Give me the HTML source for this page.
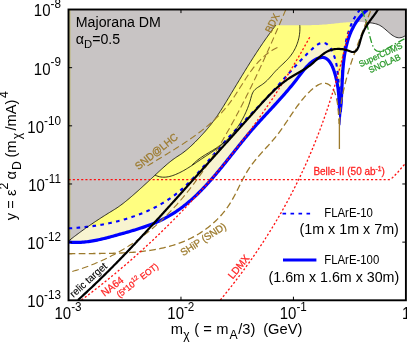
<!DOCTYPE html>
<html><head><meta charset="utf-8"><title>Majorana DM</title>
<style>
html,body{margin:0;padding:0;background:#fff;}
body{width:407px;height:343px;overflow:hidden;position:relative;font-family:"Liberation Sans",sans-serif;}
svg{display:block;will-change:transform}
</style></head><body>
<svg width="407" height="343" viewBox="0 0 407 343" style="position:absolute;left:0;top:0">
<defs><clipPath id="cp"><rect x="68.50" y="9.50" width="337.40" height="290.80"/></clipPath></defs>
<rect x="0" y="0" width="407" height="343" fill="#fff"/>
<g clip-path="url(#cp)" fill="none" stroke-linejoin="round">
<path d="M68.60,242.10 L70.19,242.22 L71.76,242.32 L73.32,242.38 L74.87,242.41 L76.41,242.42 L77.94,242.40 L79.46,242.35 L80.97,242.28 L82.47,242.18 L83.96,242.06 L85.45,241.92 L86.93,241.76 L88.40,241.57 L89.87,241.37 L91.33,241.15 L92.78,240.90 L94.23,240.65 L95.68,240.37 L97.13,240.08 L98.57,239.78 L100.00,239.46 L101.44,239.14 L102.88,238.80 L104.31,238.44 L105.75,238.08 L107.18,237.72 L108.61,237.34 L110.05,236.96 L111.49,236.57 L112.93,236.17 L114.37,235.78 L115.82,235.38 L117.27,234.97 L118.73,234.57 L120.18,234.16 L121.65,233.76 L123.11,233.35 L124.58,232.94 L126.05,232.52 L127.53,232.10 L129.00,231.68 L130.47,231.25 L131.95,230.82 L133.42,230.38 L134.90,229.94 L136.37,229.49 L137.84,229.03 L139.30,228.56 L140.77,228.09 L142.23,227.61 L143.69,227.12 L145.14,226.62 L146.59,226.11 L148.03,225.59 L149.47,225.05 L150.90,224.51 L152.32,223.95 L153.74,223.39 L155.14,222.81 L156.54,222.21 L157.93,221.61 L159.31,220.98 L160.68,220.35 L162.04,219.69 L163.39,219.03 L164.73,218.34 L166.05,217.64 L167.37,216.92 L168.67,216.19 L169.96,215.44 L171.24,214.68 L172.51,213.90 L173.77,213.11 L175.02,212.30 L176.26,211.48 L177.48,210.64 L178.70,209.79 L179.91,208.93 L181.11,208.05 L182.30,207.16 L183.48,206.26 L184.65,205.34 L185.81,204.42 L186.96,203.48 L188.11,202.53 L189.24,201.57 L190.37,200.60 L191.49,199.61 L192.61,198.62 L193.71,197.62 L194.81,196.60 L195.90,195.58 L196.98,194.55 L198.06,193.51 L199.13,192.46 L200.19,191.40 L201.25,190.33 L202.30,189.25 L203.34,188.17 L204.38,187.08 L205.41,185.98 L206.44,184.88 L207.46,183.77 L208.48,182.65 L209.49,181.52 L210.50,180.39 L211.50,179.26 L212.50,178.12 L213.49,176.97 L214.48,175.82 L215.47,174.67 L216.45,173.51 L217.43,172.34 L218.40,171.18 L219.38,170.00 L220.34,168.83 L221.31,167.65 L222.28,166.47 L223.24,165.29 L224.20,164.11 L225.15,162.92 L226.11,161.74 L227.06,160.55 L228.01,159.36 L228.96,158.17 L229.91,156.98 L230.86,155.78 L231.81,154.59 L232.75,153.40 L233.70,152.21 L234.65,151.02 L235.59,149.83 L236.54,148.65 L237.48,147.46 L238.43,146.28 L239.38,145.10 L240.32,143.92 L241.27,142.74 L242.22,141.57 L243.17,140.40 L244.13,139.23 L245.08,138.07 L246.04,136.91 L246.99,135.76 L247.95,134.61 L248.92,133.47 L249.88,132.33 L250.85,131.19 L251.82,130.07 L252.79,128.94 L253.77,127.83 L254.75,126.72 L255.73,125.61 L256.72,124.51 L257.70,123.41 L258.69,122.32 L259.69,121.23 L260.68,120.14 L261.68,119.05 L262.67,117.97 L263.67,116.88 L264.68,115.80 L265.68,114.72 L266.68,113.64 L267.69,112.56 L268.69,111.48 L269.70,110.39 L270.71,109.31 L271.72,108.22 L272.73,107.13 L273.74,106.04 L274.75,104.94 L275.76,103.85 L276.77,102.74 L277.78,101.63 L278.78,100.52 L279.79,99.41 L280.80,98.28 L281.81,97.15 L282.82,96.02 L283.83,94.87 L284.83,93.72 L285.84,92.56 L286.84,91.40 L287.84,90.22 L288.84,89.04 L289.84,87.84 L290.84,86.64 L291.83,85.42 L292.83,84.20 L293.82,82.96 L294.81,81.71 L295.79,80.45 L296.78,79.18 L297.76,77.90 L298.74,76.61 L299.72,75.31 L300.70,74.03 L301.69,72.75 L302.69,71.49 L303.69,70.24 L304.70,69.03 L305.72,67.84 L306.75,66.69 L307.79,65.58 L308.85,64.51 L309.93,63.50 L311.03,62.55 L312.14,61.65 L313.28,60.83 L314.44,60.08 L315.62,59.40 L316.83,58.81 L318.07,58.31 L319.33,57.90 L320.61,57.61 L321.89,57.45 L323.13,57.47 L324.31,57.69 L325.42,58.10 L326.48,58.68 L327.48,59.43 L328.42,60.33 L329.31,61.37 L330.15,62.53 L330.93,63.80 L331.67,65.16 L332.36,66.60 L333.00,68.11 L333.60,69.68 L334.16,71.28 L334.67,72.91 L335.15,74.55 L335.59,76.19 L335.99,77.82 L336.36,79.42 L336.70,80.98 L337.01,82.51 L337.29,84.01 L337.55,85.49 L337.78,86.95 L337.99,88.39 L338.17,89.82 L338.34,91.24 L338.49,92.65 L338.62,94.06 L338.74,95.47 L338.84,96.88 L338.94,98.30 L339.02,99.73 L339.10,101.18 L339.18,102.64 L339.25,104.13 L339.31,105.64 L339.38,107.18 L339.45,108.75 L339.52,110.35 L339.60,112.00 L340.37,110.53 L340.53,109.06 L340.68,107.58 L340.82,106.09 L340.95,104.59 L341.07,103.08 L341.18,101.57 L341.28,100.04 L341.38,98.52 L341.47,96.99 L341.55,95.45 L341.63,93.90 L341.71,92.36 L341.79,90.80 L341.86,89.25 L341.93,87.69 L342.00,86.13 L342.07,84.57 L342.15,83.00 L342.22,81.43 L342.30,79.86 L342.38,78.30 L342.47,76.73 L342.56,75.16 L342.65,73.59 L342.76,72.02 L342.87,70.46 L342.99,68.89 L343.12,67.33 L343.26,65.77 L343.41,64.22 L343.57,62.67 L343.74,61.12 L343.93,59.58 L344.13,58.04 L344.34,56.51 L344.58,54.98 L344.82,53.46 L345.09,51.94 L345.37,50.44 L345.67,48.94 L345.99,47.45 L346.33,45.96 L346.70,44.49 L347.08,43.02 L347.49,41.57 L347.92,40.12 L348.37,38.69 L348.86,37.27 L349.36,35.85 L349.89,34.45 L350.46,33.07 L351.04,31.69 L351.66,30.33 L352.31,28.98 L352.99,27.65 L353.70,26.33 L354.44,25.02 L355.22,23.73 L356.03,22.46 L356.87,21.20 L357.75,19.96 L358.67,18.73 L359.62,17.53 L360.61,16.34 L361.64,15.16 L362.71,14.01 L363.82,12.88 L364.97,11.77 L366.16,10.67 L367.40,9.60 L405.90,9.50 L68.50,9.50 Z" fill="#f8f4d0"/>
<path d="M68.60,228.40 L70.07,228.32 L71.54,228.23 L73.02,228.13 L74.50,228.03 L75.98,227.91 L77.47,227.79 L78.96,227.66 L80.45,227.53 L81.94,227.38 L83.43,227.23 L84.93,227.07 L86.43,226.89 L87.93,226.72 L89.42,226.53 L90.93,226.33 L92.43,226.12 L93.93,225.91 L95.43,225.69 L96.93,225.45 L98.43,225.21 L99.93,224.96 L101.43,224.70 L102.93,224.43 L104.43,224.15 L105.93,223.86 L107.43,223.56 L108.92,223.25 L110.42,222.93 L111.91,222.60 L113.40,222.26 L114.88,221.91 L116.37,221.54 L117.85,221.17 L119.33,220.79 L120.81,220.40 L122.28,219.99 L123.75,219.58 L125.21,219.15 L126.67,218.72 L128.13,218.27 L129.58,217.81 L131.03,217.34 L132.48,216.86 L133.91,216.37 L135.35,215.86 L136.78,215.34 L138.20,214.81 L139.62,214.27 L141.03,213.72 L142.43,213.16 L143.83,212.58 L145.23,211.99 L146.61,211.39 L147.99,210.78 L149.36,210.15 L150.73,209.51 L152.08,208.86 L153.43,208.19 L154.78,207.51 L156.11,206.82 L157.43,206.12 L158.75,205.40 L160.06,204.67 L161.36,203.93 L162.65,203.17 L163.93,202.40 L165.20,201.61 L166.46,200.81 L167.72,200.00 L168.96,199.17 L170.19,198.33 L171.41,197.48 L172.62,196.61 L173.82,195.73 L175.01,194.83 L176.19,193.92 L177.35,192.99 L178.51,192.05 L179.65,191.09 L180.79,190.12 L181.91,189.14 L183.03,188.14 L184.13,187.14 L185.22,186.12 L186.31,185.09 L187.39,184.05 L188.46,183.00 L189.52,181.94 L190.58,180.87 L191.62,179.79 L192.67,178.70 L193.70,177.60 L194.73,176.50 L195.75,175.38 L196.77,174.27 L197.78,173.14 L198.79,172.01 L199.80,170.87 L200.80,169.73 L201.80,168.58 L202.79,167.43 L203.78,166.28 L204.77,165.12 L205.76,163.96 L206.74,162.79 L207.73,161.63 L208.71,160.46 L209.69,159.29 L210.67,158.12 L211.65,156.95 L212.64,155.78 L213.62,154.61 L214.60,153.45 L215.59,152.28 L216.58,151.12 L217.57,149.95 L218.56,148.79 L219.55,147.64 L220.55,146.48 L221.55,145.33 L222.56,144.19 L223.57,143.05 L224.58,141.91 L225.60,140.78 L226.62,139.65 L227.64,138.53 L228.66,137.41 L229.69,136.29 L230.72,135.18 L231.76,134.07 L232.80,132.96 L233.83,131.86 L234.88,130.75 L235.92,129.66 L236.96,128.56 L238.01,127.47 L239.06,126.37 L240.11,125.28 L241.16,124.20 L242.21,123.11 L243.26,122.02 L244.32,120.94 L245.37,119.86 L246.42,118.78 L247.48,117.70 L248.53,116.62 L249.59,115.54 L250.64,114.46 L251.69,113.39 L252.75,112.31 L253.80,111.23 L254.85,110.15 L255.90,109.08 L256.95,108.00 L258.00,106.92 L259.05,105.84 L260.09,104.76 L261.13,103.68 L262.18,102.60 L263.22,101.51 L264.25,100.43 L265.29,99.34 L266.32,98.26 L267.35,97.17 L268.38,96.07 L269.40,94.98 L270.42,93.88 L271.44,92.78 L272.45,91.68 L273.46,90.58 L274.47,89.47 L275.47,88.36 L276.47,87.25 L277.47,86.14 L278.47,85.02 L279.47,83.91 L280.46,82.79 L281.46,81.67 L282.46,80.54 L283.45,79.42 L284.45,78.30 L285.45,77.17 L286.45,76.05 L287.45,74.92 L288.45,73.79 L289.46,72.67 L290.47,71.54 L291.49,70.41 L292.50,69.29 L293.53,68.16 L294.55,67.03 L295.59,65.91 L296.62,64.78 L297.67,63.66 L298.72,62.54 L299.78,61.42 L300.84,60.30 L301.91,59.18 L302.99,58.06 L304.08,56.94 L305.18,55.83 L306.28,54.72 L307.40,53.61 L308.53,52.51 L309.66,51.40 L310.81,50.30 L311.97,49.21 L313.14,48.13 L314.31,47.09 L315.49,46.12 L316.68,45.23 L317.86,44.45 L319.05,43.79 L320.23,43.28 L321.41,42.93 L322.58,42.78 L323.74,42.83 L324.88,43.10 L325.99,43.58 L327.06,44.26 L328.08,45.12 L329.05,46.15 L329.96,47.32 L330.82,48.62 L331.62,50.02 L332.37,51.51 L333.06,53.06 L333.70,54.67 L334.29,56.29 L334.82,57.93 L335.29,59.55 L335.71,61.14 L336.08,62.70 L336.40,64.22 L336.69,65.71 L336.93,67.19 L337.15,68.65 L337.35,70.10 L337.53,71.55 L337.70,73.00 L337.85,74.46 L338.01,75.92 L338.15,77.39 L338.28,78.86 L338.41,80.34 L338.53,81.82 L338.64,83.30 L338.75,84.79 L338.85,86.28 L338.94,87.78 L339.03,89.28 L339.11,90.78 L339.19,92.28 L339.26,93.79 L339.32,95.30 L339.38,96.81 L339.44,98.33 L339.49,99.84 L339.54,101.36 L339.59,102.88 L339.63,104.39 L339.67,105.91 L339.71,107.44 L339.74,108.96 L339.77,110.48 L339.80,112.00 L339.96,110.52 L340.11,109.03 L340.25,107.54 L340.38,106.04 L340.50,104.53 L340.61,103.02 L340.71,101.51 L340.81,99.98 L340.91,98.46 L340.99,96.93 L341.08,95.39 L341.15,93.85 L341.23,92.31 L341.30,90.77 L341.37,89.22 L341.44,87.67 L341.51,86.11 L341.58,84.56 L341.64,83.00 L341.71,81.44 L341.78,79.88 L341.86,78.32 L341.93,76.76 L342.01,75.20 L342.09,73.64 L342.18,72.08 L342.28,70.51 L342.38,68.95 L342.48,67.40 L342.60,65.84 L342.72,64.28 L342.85,62.73 L342.99,61.18 L343.14,59.63 L343.30,58.08 L343.48,56.54 L343.66,55.00 L343.86,53.47 L344.07,51.94 L344.29,50.41 L344.53,48.89 L344.78,47.37 L345.05,45.86 L345.34,44.35 L345.64,42.85 L345.96,41.36 L346.30,39.87 L346.66,38.39 L347.04,36.92 L347.44,35.45 L347.85,33.99 L348.29,32.54 L348.76,31.10 L349.25,29.67 L349.76,28.25 L350.29,26.83 L350.86,25.43 L351.45,24.04 L352.07,22.66 L352.72,21.29 L353.39,19.94 L354.10,18.59 L354.84,17.27 L355.62,15.95 L356.42,14.65 L357.26,13.36 L358.14,12.09 L359.05,10.84 L360.00,9.60 L405.90,9.50 L68.50,9.50 Z" fill="#fffe80"/>
<path d="M340.20,112.00 L340.37,110.53 L340.53,109.06 L340.68,107.58 L340.82,106.09 L340.95,104.59 L341.07,103.08 L341.18,101.57 L341.28,100.04 L341.38,98.52 L341.47,96.99 L341.55,95.45 L341.63,93.90 L341.71,92.36 L341.79,90.80 L341.86,89.25 L341.93,87.69 L342.00,86.13 L342.07,84.57 L342.15,83.00 L342.22,81.43 L342.30,79.86 L342.38,78.30 L342.47,76.73 L342.56,75.16 L342.65,73.59 L342.76,72.02 L342.87,70.46 L342.99,68.89 L343.12,67.33 L343.26,65.77 L343.41,64.22 L343.57,62.67 L343.74,61.12 L343.93,59.58 L344.13,58.04 L344.34,56.51 L344.58,54.98 L344.82,53.46 L345.09,51.94 L345.37,50.44 L345.67,48.94 L345.99,47.45 L346.33,45.96 L346.70,44.49 L347.08,43.02 L347.49,41.57 L347.92,40.12 L348.37,38.69 L348.86,37.27 L349.36,35.85 L349.89,34.45 L350.46,33.07 L351.04,31.69 L351.66,30.33 L352.31,28.98 L352.99,27.65 L353.70,26.33 L354.44,25.02 L355.22,23.73 L356.03,22.46 L356.87,21.20 L357.75,19.96 L358.67,18.73 L359.62,17.53 L360.61,16.34 L361.64,15.16 L362.71,14.01 L363.82,12.88 L364.97,11.77 L366.16,10.67 L367.40,9.60 L405.90,9.50 L405.90,112.00 L340.20,112.00 Z" fill="#fff"/>
<path d="M68.60,241.00 L69.78,240.06 L70.96,239.13 L72.15,238.20 L73.35,237.27 L74.55,236.35 L75.75,235.44 L76.97,234.53 L78.18,233.62 L79.40,232.72 L80.62,231.82 L81.85,230.93 L83.08,230.04 L84.32,229.16 L85.56,228.28 L86.80,227.40 L88.04,226.54 L89.29,225.67 L90.54,224.81 L91.80,223.96 L93.05,223.11 L94.31,222.26 L95.57,221.42 L96.83,220.58 L98.10,219.75 L99.37,218.93 L100.63,218.11 L101.90,217.29 L103.17,216.48 L104.44,215.67 L105.71,214.87 L106.99,214.07 L108.26,213.28 L109.53,212.50 L110.80,211.71 L112.08,210.93 L113.34,210.15 L114.61,209.37 L115.86,208.57 L117.11,207.75 L118.35,206.91 L119.58,206.05 L120.79,205.17 L122.00,204.28 L123.20,203.36 L124.38,202.43 L125.57,201.48 L126.74,200.53 L127.91,199.56 L129.07,198.58 L130.22,197.60 L131.38,196.61 L132.53,195.62 L133.67,194.63 L134.81,193.63 L135.95,192.62 L137.08,191.62 L138.22,190.61 L139.35,189.60 L140.47,188.58 L141.60,187.57 L142.72,186.55 L143.84,185.53 L144.95,184.50 L146.07,183.48 L147.19,182.45 L148.30,181.42 L149.41,180.40 L150.52,179.37 L151.63,178.34 L152.74,177.31 L153.85,176.28 L154.96,175.25 L156.07,174.22 L157.18,173.19 L158.29,172.16 L159.40,171.14 L160.51,170.11 L161.62,169.09 L162.74,168.08 L163.86,167.07 L164.99,166.07 L166.12,165.08 L167.25,164.10 L168.40,163.14 L169.55,162.20 L170.71,161.27 L171.88,160.35 L173.07,159.46 L174.26,158.60 L175.47,157.75 L176.69,156.93 L177.92,156.14 L179.16,155.35 L180.39,154.55 L181.60,153.73 L182.79,152.87 L183.97,151.99 L185.14,151.09 L186.29,150.16 L187.43,149.22 L188.56,148.25 L189.68,147.26 L190.78,146.26 L191.88,145.24 L192.96,144.21 L194.04,143.16 L195.11,142.10 L196.18,141.02 L197.24,139.94 L198.29,138.85 L199.34,137.75 L200.38,136.65 L201.42,135.53 L202.45,134.41 L203.47,133.28 L204.49,132.14 L205.49,130.99 L206.49,129.84 L207.48,128.68 L208.45,127.51 L209.42,126.33 L210.38,125.14 L211.32,123.95 L212.25,122.75 L213.17,121.53 L214.07,120.31 L214.96,119.09 L215.84,117.85 L216.70,116.61 L217.56,115.36 L218.40,114.11 L219.24,112.85 L220.06,111.59 L220.88,110.32 L221.70,109.04 L222.50,107.77 L223.30,106.49 L224.10,105.20 L224.89,103.92 L225.68,102.63 L226.46,101.34 L227.25,100.05 L228.03,98.76 L228.81,97.46 L229.59,96.17 L230.37,94.88 L231.15,93.58 L231.93,92.29 L232.72,91.00 L233.50,89.70 L234.28,88.41 L235.06,87.11 L235.84,85.82 L236.62,84.53 L237.40,83.23 L238.18,81.94 L238.97,80.65 L239.75,79.35 L240.54,78.06 L241.32,76.77 L242.11,75.48 L242.90,74.19 L243.69,72.90 L244.48,71.61 L245.27,70.33 L246.07,69.04 L246.86,67.75 L247.66,66.47 L248.46,65.19 L249.27,63.91 L250.07,62.63 L250.88,61.35 L251.69,60.07 L252.50,58.79 L253.32,57.52 L254.13,56.25 L254.96,54.98 L255.78,53.71 L256.61,52.44 L257.44,51.18 L258.27,49.91 L259.11,48.65 L259.95,47.39 L260.79,46.14 L261.64,44.88 L262.49,43.63 L263.35,42.38 L264.20,41.14 L265.07,39.89 L265.94,38.65 L266.81,37.42 L267.69,36.18 L268.57,34.95 L269.45,33.72 L270.35,32.49 L271.24,31.27 L272.14,30.05 L273.05,28.83 L273.96,27.62 L274.88,26.41 L275.80,25.20 L277.30,25.18 L278.81,25.17 L280.32,25.16 L281.84,25.16 L283.35,25.16 L284.87,25.16 L286.39,25.16 L287.92,25.17 L289.44,25.18 L290.97,25.19 L292.50,25.19 L294.03,25.20 L295.56,25.21 L297.09,25.22 L298.62,25.22 L300.15,25.22 L301.68,25.22 L303.21,25.22 L304.74,25.21 L306.27,25.20 L307.79,25.18 L309.32,25.16 L310.84,25.13 L312.36,25.09 L313.88,25.05 L315.40,25.00 L316.91,24.94 L318.42,24.88 L319.93,24.80 L321.43,24.71 L322.93,24.62 L324.42,24.51 L325.91,24.39 L327.40,24.26 L328.88,24.12 L330.35,23.97 L331.83,23.80 L333.30,23.63 L334.79,23.47 L336.28,23.30 L337.78,23.15 L339.28,22.99 L340.80,22.85 L342.31,22.71 L343.84,22.58 L345.36,22.46 L346.89,22.35 L348.43,22.25 L349.96,22.17 L351.49,22.10 L353.03,22.04 L354.56,22.01 L356.10,21.98 L357.63,21.98 L359.16,21.99 L360.68,22.03 L362.20,22.09 L363.72,22.16 L365.23,22.26 L366.73,22.39 L368.23,22.54 L369.72,22.72 L371.20,22.92 L372.67,23.15 L374.13,23.42 L375.57,23.75 L376.99,24.16 L378.37,24.68 L379.72,25.32 L381.03,26.09 L382.31,26.96 L383.56,27.92 L384.80,28.93 L386.01,29.97 L387.22,31.04 L388.41,32.10 L389.61,33.13 L390.81,34.11 L392.01,35.02 L393.23,35.84 L394.47,36.54 L395.73,37.11 L397.02,37.53 L398.34,37.76 L399.69,37.79 L401.09,37.61 L402.54,37.18 L404.04,36.48 L405.60,35.50 L405.90,9.50 L68.50,9.50 Z" fill="#c8c4c4"/>
<path d="M69.9,9.5 V241" stroke="#bcb45c" stroke-width="1"/>
<path d="M68.60,228.40 L70.07,228.32 L71.54,228.23 L73.02,228.13 L74.50,228.03 L75.98,227.91 L77.47,227.79 L78.96,227.66 L80.45,227.53 L81.94,227.38 L83.43,227.23 L84.93,227.07 L86.43,226.89 L87.93,226.72 L89.42,226.53 L90.93,226.33 L92.43,226.12 L93.93,225.91 L95.43,225.69 L96.93,225.45 L98.43,225.21 L99.93,224.96 L101.43,224.70 L102.93,224.43 L104.43,224.15 L105.93,223.86 L107.43,223.56 L108.92,223.25 L110.42,222.93 L111.91,222.60 L113.40,222.26 L114.88,221.91 L116.37,221.54 L117.85,221.17 L119.33,220.79 L120.81,220.40 L122.28,219.99 L123.75,219.58 L125.21,219.15 L126.67,218.72 L128.13,218.27 L129.58,217.81 L131.03,217.34 L132.48,216.86 L133.91,216.37 L135.35,215.86 L136.78,215.34 L138.20,214.81 L139.62,214.27 L141.03,213.72 L142.43,213.16 L143.83,212.58 L145.23,211.99 L146.61,211.39 L147.99,210.78 L149.36,210.15 L150.73,209.51 L152.08,208.86 L153.43,208.19 L154.78,207.51 L156.11,206.82 L157.43,206.12 L158.75,205.40 L160.06,204.67 L161.36,203.93 L162.65,203.17 L163.93,202.40 L165.20,201.61 L166.46,200.81 L167.72,200.00 L168.96,199.17 L170.19,198.33 L171.41,197.48 L172.62,196.61 L173.82,195.73 L175.01,194.83 L176.19,193.92 L177.35,192.99 L178.51,192.05 L179.65,191.09 L180.79,190.12 L181.91,189.14 L183.03,188.14 L184.13,187.14 L185.22,186.12 L186.31,185.09 L187.39,184.05 L188.46,183.00 L189.52,181.94 L190.58,180.87 L191.62,179.79 L192.67,178.70 L193.70,177.60 L194.73,176.50 L195.75,175.38 L196.77,174.27 L197.78,173.14 L198.79,172.01 L199.80,170.87 L200.80,169.73 L201.80,168.58 L202.79,167.43 L203.78,166.28 L204.77,165.12 L205.76,163.96 L206.74,162.79 L207.73,161.63 L208.71,160.46 L209.69,159.29 L210.67,158.12 L211.65,156.95 L212.64,155.78 L213.62,154.61 L214.60,153.45 L215.59,152.28 L216.58,151.12 L217.57,149.95 L218.56,148.79 L219.55,147.64 L220.55,146.48 L221.55,145.33 L222.56,144.19 L223.57,143.05 L224.58,141.91 L225.60,140.78 L226.62,139.65 L227.64,138.53 L228.66,137.41 L229.69,136.29 L230.72,135.18 L231.76,134.07 L232.80,132.96 L233.83,131.86 L234.88,130.75 L235.92,129.66 L236.96,128.56 L238.01,127.47 L239.06,126.37 L240.11,125.28 L241.16,124.20 L242.21,123.11 L243.26,122.02 L244.32,120.94 L245.37,119.86 L246.42,118.78 L247.48,117.70 L248.53,116.62 L249.59,115.54 L250.64,114.46 L251.69,113.39 L252.75,112.31 L253.80,111.23 L254.85,110.15 L255.90,109.08 L256.95,108.00 L258.00,106.92 L259.05,105.84 L260.09,104.76 L261.13,103.68 L262.18,102.60 L263.22,101.51 L264.25,100.43 L265.29,99.34 L266.32,98.26 L267.35,97.17 L268.38,96.07 L269.40,94.98 L270.42,93.88 L271.44,92.78 L272.45,91.68 L273.46,90.58 L274.47,89.47 L275.47,88.36 L276.47,87.25 L277.47,86.14 L278.47,85.02 L279.47,83.91 L280.46,82.79 L281.46,81.67 L282.46,80.54 L283.45,79.42 L284.45,78.30 L285.45,77.17 L286.45,76.05 L287.45,74.92 L288.45,73.79 L289.46,72.67 L290.47,71.54 L291.49,70.41 L292.50,69.29 L293.53,68.16 L294.55,67.03 L295.59,65.91 L296.62,64.78 L297.67,63.66 L298.72,62.54 L299.78,61.42 L300.84,60.30 L301.91,59.18 L302.99,58.06 L304.08,56.94 L305.18,55.83 L306.28,54.72 L307.40,53.61 L308.53,52.51 L309.66,51.40 L310.81,50.30 L311.97,49.21 L313.14,48.13 L314.31,47.09 L315.49,46.12 L316.68,45.23 L317.86,44.45 L319.05,43.79 L320.23,43.28 L321.41,42.93 L322.58,42.78 L323.74,42.83 L324.88,43.10 L325.99,43.58 L327.06,44.26 L328.08,45.12 L329.05,46.15 L329.96,47.32 L330.82,48.62 L331.62,50.02 L332.37,51.51 L333.06,53.06 L333.70,54.67 L334.29,56.29 L334.82,57.93 L335.29,59.55 L335.71,61.14 L336.08,62.70 L336.40,64.22 L336.69,65.71 L336.93,67.19 L337.15,68.65 L337.35,70.10 L337.53,71.55 L337.70,73.00 L337.85,74.46 L338.01,75.92 L338.15,77.39 L338.28,78.86 L338.41,80.34 L338.53,81.82 L338.64,83.30 L338.75,84.79 L338.85,86.28 L338.94,87.78 L339.03,89.28 L339.11,90.78 L339.19,92.28 L339.26,93.79 L339.32,95.30 L339.38,96.81 L339.44,98.33 L339.49,99.84 L339.54,101.36 L339.59,102.88 L339.63,104.39 L339.67,105.91 L339.71,107.44 L339.74,108.96 L339.77,110.48 L339.80,112.00" stroke="#0000ff" stroke-width="2.1" stroke-dasharray="3.6 4.4"/>
<path d="M360.00,9.60 L359.05,10.84 L358.14,12.09 L357.26,13.36 L356.42,14.65 L355.62,15.95 L354.84,17.27 L354.10,18.59 L353.39,19.94 L352.72,21.29 L352.07,22.66 L351.45,24.04 L350.86,25.43 L350.29,26.83 L349.76,28.25 L349.25,29.67 L348.76,31.10 L348.29,32.54 L347.85,33.99 L347.44,35.45 L347.04,36.92 L346.66,38.39 L346.30,39.87 L345.96,41.36 L345.64,42.85 L345.34,44.35 L345.05,45.86 L344.78,47.37 L344.53,48.89 L344.29,50.41 L344.07,51.94 L343.86,53.47 L343.66,55.00 L343.48,56.54 L343.30,58.08 L343.14,59.63 L342.99,61.18 L342.85,62.73 L342.72,64.28 L342.60,65.84 L342.48,67.40 L342.38,68.95 L342.28,70.51 L342.18,72.08 L342.09,73.64 L342.01,75.20 L341.93,76.76 L341.86,78.32 L341.78,79.88 L341.71,81.44 L341.64,83.00 L341.58,84.56 L341.51,86.11 L341.44,87.67 L341.37,89.22 L341.30,90.77 L341.23,92.31 L341.15,93.85 L341.08,95.39 L340.99,96.93 L340.91,98.46 L340.81,99.98 L340.71,101.51 L340.61,103.02 L340.50,104.53 L340.38,106.04 L340.25,107.54 L340.11,109.03 L339.96,110.52 L339.80,112.00" stroke="#0000ff" stroke-width="2.1" stroke-dasharray="3.6 4.4"/>
<path d="M68.60,242.10 L70.19,242.22 L71.76,242.32 L73.32,242.38 L74.87,242.41 L76.41,242.42 L77.94,242.40 L79.46,242.35 L80.97,242.28 L82.47,242.18 L83.96,242.06 L85.45,241.92 L86.93,241.76 L88.40,241.57 L89.87,241.37 L91.33,241.15 L92.78,240.90 L94.23,240.65 L95.68,240.37 L97.13,240.08 L98.57,239.78 L100.00,239.46 L101.44,239.14 L102.88,238.80 L104.31,238.44 L105.75,238.08 L107.18,237.72 L108.61,237.34 L110.05,236.96 L111.49,236.57 L112.93,236.17 L114.37,235.78 L115.82,235.38 L117.27,234.97 L118.73,234.57 L120.18,234.16 L121.65,233.76 L123.11,233.35 L124.58,232.94 L126.05,232.52 L127.53,232.10 L129.00,231.68 L130.47,231.25 L131.95,230.82 L133.42,230.38 L134.90,229.94 L136.37,229.49 L137.84,229.03 L139.30,228.56 L140.77,228.09 L142.23,227.61 L143.69,227.12 L145.14,226.62 L146.59,226.11 L148.03,225.59 L149.47,225.05 L150.90,224.51 L152.32,223.95 L153.74,223.39 L155.14,222.81 L156.54,222.21 L157.93,221.61 L159.31,220.98 L160.68,220.35 L162.04,219.69 L163.39,219.03 L164.73,218.34 L166.05,217.64 L167.37,216.92 L168.67,216.19 L169.96,215.44 L171.24,214.68 L172.51,213.90 L173.77,213.11 L175.02,212.30 L176.26,211.48 L177.48,210.64 L178.70,209.79 L179.91,208.93 L181.11,208.05 L182.30,207.16 L183.48,206.26 L184.65,205.34 L185.81,204.42 L186.96,203.48 L188.11,202.53 L189.24,201.57 L190.37,200.60 L191.49,199.61 L192.61,198.62 L193.71,197.62 L194.81,196.60 L195.90,195.58 L196.98,194.55 L198.06,193.51 L199.13,192.46 L200.19,191.40 L201.25,190.33 L202.30,189.25 L203.34,188.17 L204.38,187.08 L205.41,185.98 L206.44,184.88 L207.46,183.77 L208.48,182.65 L209.49,181.52 L210.50,180.39 L211.50,179.26 L212.50,178.12 L213.49,176.97 L214.48,175.82 L215.47,174.67 L216.45,173.51 L217.43,172.34 L218.40,171.18 L219.38,170.00 L220.34,168.83 L221.31,167.65 L222.28,166.47 L223.24,165.29 L224.20,164.11 L225.15,162.92 L226.11,161.74 L227.06,160.55 L228.01,159.36 L228.96,158.17 L229.91,156.98 L230.86,155.78 L231.81,154.59 L232.75,153.40 L233.70,152.21 L234.65,151.02 L235.59,149.83 L236.54,148.65 L237.48,147.46 L238.43,146.28 L239.38,145.10 L240.32,143.92 L241.27,142.74 L242.22,141.57 L243.17,140.40 L244.13,139.23 L245.08,138.07 L246.04,136.91 L246.99,135.76 L247.95,134.61 L248.92,133.47 L249.88,132.33 L250.85,131.19 L251.82,130.07 L252.79,128.94 L253.77,127.83 L254.75,126.72 L255.73,125.61 L256.72,124.51 L257.70,123.41 L258.69,122.32 L259.69,121.23 L260.68,120.14 L261.68,119.05 L262.67,117.97 L263.67,116.88 L264.68,115.80 L265.68,114.72 L266.68,113.64 L267.69,112.56 L268.69,111.48 L269.70,110.39 L270.71,109.31 L271.72,108.22 L272.73,107.13 L273.74,106.04 L274.75,104.94 L275.76,103.85 L276.77,102.74 L277.78,101.63 L278.78,100.52 L279.79,99.41 L280.80,98.28 L281.81,97.15 L282.82,96.02 L283.83,94.87 L284.83,93.72 L285.84,92.56 L286.84,91.40 L287.84,90.22 L288.84,89.04 L289.84,87.84 L290.84,86.64 L291.83,85.42 L292.83,84.20 L293.82,82.96 L294.81,81.71 L295.79,80.45 L296.78,79.18 L297.76,77.90 L298.74,76.61 L299.72,75.31 L300.70,74.03 L301.69,72.75 L302.69,71.49 L303.69,70.24 L304.70,69.03 L305.72,67.84 L306.75,66.69 L307.79,65.58 L308.85,64.51 L309.93,63.50 L311.03,62.55 L312.14,61.65 L313.28,60.83 L314.44,60.08 L315.62,59.40 L316.83,58.81 L318.07,58.31 L319.33,57.90 L320.61,57.61 L321.89,57.45 L323.13,57.47 L324.31,57.69 L325.42,58.10 L326.48,58.68 L327.48,59.43 L328.42,60.33 L329.31,61.37 L330.15,62.53 L330.93,63.80 L331.67,65.16 L332.36,66.60 L333.00,68.11 L333.60,69.68 L334.16,71.28 L334.67,72.91 L335.15,74.55 L335.59,76.19 L335.99,77.82 L336.36,79.42 L336.70,80.98 L337.01,82.51 L337.29,84.01 L337.55,85.49 L337.78,86.95 L337.99,88.39 L338.17,89.82 L338.34,91.24 L338.49,92.65 L338.62,94.06 L338.74,95.47 L338.84,96.88 L338.94,98.30 L339.02,99.73 L339.10,101.18 L339.18,102.64 L339.25,104.13 L339.31,105.64 L339.38,107.18 L339.45,108.75 L339.52,110.35 L339.60,112.00" stroke="#0000ff" stroke-width="3.2"/>
<path d="M340.20,112.00 L340.37,110.53 L340.53,109.06 L340.68,107.58 L340.82,106.09 L340.95,104.59 L341.07,103.08 L341.18,101.57 L341.28,100.04 L341.38,98.52 L341.47,96.99 L341.55,95.45 L341.63,93.90 L341.71,92.36 L341.79,90.80 L341.86,89.25 L341.93,87.69 L342.00,86.13 L342.07,84.57 L342.15,83.00 L342.22,81.43 L342.30,79.86 L342.38,78.30 L342.47,76.73 L342.56,75.16 L342.65,73.59 L342.76,72.02 L342.87,70.46 L342.99,68.89 L343.12,67.33 L343.26,65.77 L343.41,64.22 L343.57,62.67 L343.74,61.12 L343.93,59.58 L344.13,58.04 L344.34,56.51 L344.58,54.98 L344.82,53.46 L345.09,51.94 L345.37,50.44 L345.67,48.94 L345.99,47.45 L346.33,45.96 L346.70,44.49 L347.08,43.02 L347.49,41.57 L347.92,40.12 L348.37,38.69 L348.86,37.27 L349.36,35.85 L349.89,34.45 L350.46,33.07 L351.04,31.69 L351.66,30.33 L352.31,28.98 L352.99,27.65 L353.70,26.33 L354.44,25.02 L355.22,23.73 L356.03,22.46 L356.87,21.20 L357.75,19.96 L358.67,18.73 L359.62,17.53 L360.61,16.34 L361.64,15.16 L362.71,14.01 L363.82,12.88 L364.97,11.77 L366.16,10.67 L367.40,9.60" stroke="#0000ff" stroke-width="3.2"/>
<path d="M337.3,98 L342.7,98 L340.4,125.2 L339.9,125.2 Z" fill="#0000ff"/>
<path d="M68.60,241.00 L69.78,240.06 L70.96,239.13 L72.15,238.20 L73.35,237.27 L74.55,236.35 L75.75,235.44 L76.97,234.53 L78.18,233.62 L79.40,232.72 L80.62,231.82 L81.85,230.93 L83.08,230.04 L84.32,229.16 L85.56,228.28 L86.80,227.40 L88.04,226.54 L89.29,225.67 L90.54,224.81 L91.80,223.96 L93.05,223.11 L94.31,222.26 L95.57,221.42 L96.83,220.58 L98.10,219.75 L99.37,218.93 L100.63,218.11 L101.90,217.29 L103.17,216.48 L104.44,215.67 L105.71,214.87 L106.99,214.07 L108.26,213.28 L109.53,212.50 L110.80,211.71 L112.08,210.93 L113.34,210.15 L114.61,209.37 L115.86,208.57 L117.11,207.75 L118.35,206.91 L119.58,206.05 L120.79,205.17 L122.00,204.28 L123.20,203.36 L124.38,202.43 L125.57,201.48 L126.74,200.53 L127.91,199.56 L129.07,198.58 L130.22,197.60 L131.38,196.61 L132.53,195.62 L133.67,194.63 L134.81,193.63 L135.95,192.62 L137.08,191.62 L138.22,190.61 L139.35,189.60 L140.47,188.58 L141.60,187.57 L142.72,186.55 L143.84,185.53 L144.95,184.50 L146.07,183.48 L147.19,182.45 L148.30,181.42 L149.41,180.40 L150.52,179.37 L151.63,178.34 L152.74,177.31 L153.85,176.28 L154.96,175.25 L156.07,174.22 L157.18,173.19 L158.29,172.16 L159.40,171.14 L160.51,170.11 L161.62,169.09 L162.74,168.08 L163.86,167.07 L164.99,166.07 L166.12,165.08 L167.25,164.10 L168.40,163.14 L169.55,162.20 L170.71,161.27 L171.88,160.35 L173.07,159.46 L174.26,158.60 L175.47,157.75 L176.69,156.93 L177.92,156.14 L179.16,155.35 L180.39,154.55 L181.60,153.73 L182.79,152.87 L183.97,151.99 L185.14,151.09 L186.29,150.16 L187.43,149.22 L188.56,148.25 L189.68,147.26 L190.78,146.26 L191.88,145.24 L192.96,144.21 L194.04,143.16 L195.11,142.10 L196.18,141.02 L197.24,139.94 L198.29,138.85 L199.34,137.75 L200.38,136.65 L201.42,135.53 L202.45,134.41 L203.47,133.28 L204.49,132.14 L205.49,130.99 L206.49,129.84 L207.48,128.68 L208.45,127.51 L209.42,126.33 L210.38,125.14 L211.32,123.95 L212.25,122.75 L213.17,121.53 L214.07,120.31 L214.96,119.09 L215.84,117.85 L216.70,116.61 L217.56,115.36 L218.40,114.11 L219.24,112.85 L220.06,111.59 L220.88,110.32 L221.70,109.04 L222.50,107.77 L223.30,106.49 L224.10,105.20 L224.89,103.92 L225.68,102.63 L226.46,101.34 L227.25,100.05 L228.03,98.76 L228.81,97.46 L229.59,96.17 L230.37,94.88 L231.15,93.58 L231.93,92.29 L232.72,91.00 L233.50,89.70 L234.28,88.41 L235.06,87.11 L235.84,85.82 L236.62,84.53 L237.40,83.23 L238.18,81.94 L238.97,80.65 L239.75,79.35 L240.54,78.06 L241.32,76.77 L242.11,75.48 L242.90,74.19 L243.69,72.90 L244.48,71.61 L245.27,70.33 L246.07,69.04 L246.86,67.75 L247.66,66.47 L248.46,65.19 L249.27,63.91 L250.07,62.63 L250.88,61.35 L251.69,60.07 L252.50,58.79 L253.32,57.52 L254.13,56.25 L254.96,54.98 L255.78,53.71 L256.61,52.44 L257.44,51.18 L258.27,49.91 L259.11,48.65 L259.95,47.39 L260.79,46.14 L261.64,44.88 L262.49,43.63 L263.35,42.38 L264.20,41.14 L265.07,39.89 L265.94,38.65 L266.81,37.42 L267.69,36.18 L268.57,34.95 L269.45,33.72 L270.35,32.49 L271.24,31.27 L272.14,30.05 L273.05,28.83 L273.96,27.62 L274.88,26.41 L275.80,25.20" stroke="#000" stroke-width="0.8"/>
<path d="M365.23,22.26 L366.73,22.39 L368.23,22.54 L369.72,22.72 L371.20,22.92 L372.67,23.15 L374.13,23.42 L375.57,23.75 L376.99,24.16 L378.37,24.68 L379.72,25.32 L381.03,26.09 L382.31,26.96 L383.56,27.92 L384.80,28.93 L386.01,29.97 L387.22,31.04 L388.41,32.10 L389.61,33.13 L390.81,34.11 L392.01,35.02 L393.23,35.84 L394.47,36.54 L395.73,37.11 L397.02,37.53 L398.34,37.76 L399.69,37.79 L401.09,37.61 L402.54,37.18 L404.04,36.48 L405.60,35.50" stroke="#000" stroke-width="0.8"/>
<path d="M155.10,175.10 L156.56,175.78 L158.03,176.32 L159.50,176.72 L160.98,177.00 L162.46,177.15 L163.94,177.19 L165.42,177.13 L166.90,176.97 L168.37,176.73 L169.83,176.40 L171.29,176.01 L172.74,175.56 L174.17,175.05 L175.59,174.49 L176.99,173.89 L178.37,173.27 L179.74,172.61 L181.09,171.93 L182.43,171.23 L183.75,170.50 L185.07,169.75 L186.37,168.98 L187.66,168.19 L188.94,167.39 L190.22,166.57 L191.49,165.75 L192.75,164.91 L194.01,164.07 L195.27,163.22 L196.52,162.37 L197.78,161.51 L199.03,160.66 L200.29,159.81 L201.55,158.96 L202.81,158.12 L204.07,157.28 L205.34,156.44 L206.60,155.60 L207.86,154.76 L209.12,153.92 L210.38,153.08 L211.63,152.23 L212.87,151.37 L214.11,150.50 L215.34,149.63 L216.56,148.74 L217.76,147.84 L218.96,146.93 L220.14,146.00 L221.30,145.06 L222.45,144.09 L223.59,143.11 L224.70,142.11 L225.80,141.08 L226.88,140.03 L227.94,138.96 L228.98,137.88 L230.00,136.77 L231.00,135.64 L231.98,134.50 L232.94,133.33 L233.89,132.15 L234.81,130.96 L235.71,129.74 L236.60,128.51 L237.46,127.27 L238.31,126.01 L239.14,124.74 L239.94,123.46 L240.73,122.16 L241.49,120.85 L242.24,119.53 L242.96,118.19 L243.67,116.85 L244.35,115.50 L245.01,114.13 L245.65,112.76 L246.27,111.37 L246.87,109.98 L247.44,108.57 L247.99,107.16 L248.52,105.73 L249.02,104.30 L249.50,102.85 L249.96,101.40 L250.39,99.94 L250.79,98.47 L251.19,97.00 L251.61,95.56 L252.09,94.17 L252.66,92.84 L253.36,91.59 L254.20,90.46 L255.19,89.42 L256.31,88.47 L257.52,87.59 L258.79,86.74 L260.09,85.90 L261.40,85.06 L262.67,84.19 L263.90,83.28 L265.06,82.31 L266.18,81.31 L267.26,80.27 L268.31,79.20 L269.33,78.11 L270.33,77.00 L271.32,75.88 L272.31,74.75 L273.29,73.61 L274.28,72.49 L275.29,71.37 L276.32,70.27 L277.38,69.19 L278.46,68.13 L279.55,67.08 L280.66,66.03 L281.77,65.00 L282.88,63.96 L283.99,62.91 L285.09,61.86 L286.16,60.79 L287.22,59.71 L288.25,58.60 L289.24,57.47 L290.19,56.30 L291.11,55.11 L291.98,53.88 L292.81,52.63 L293.60,51.35 L294.34,50.05 L295.04,48.72 L295.70,47.37 L296.31,45.99 L296.87,44.60 L297.39,43.19 L297.87,41.76 L298.29,40.31 L298.67,38.85 L299.00,37.37 L299.28,35.88 L299.50,34.38 L299.68,32.87 L299.81,31.35 L299.89,29.82 L299.91,28.28 L299.88,26.74 L299.80,25.20" stroke="#000" stroke-width="0.8"/>
<path d="M192.00,165.30 L193.09,164.12 L194.21,162.99 L195.37,161.91 L196.57,160.88 L197.80,159.88 L199.05,158.93 L200.33,158.00 L201.64,157.11 L202.96,156.24 L204.29,155.39 L205.64,154.55 L206.99,153.73 L208.35,152.91 L209.71,152.10 L211.07,151.29 L212.43,150.47 L213.78,149.64 L215.11,148.80 L216.44,147.94 L217.74,147.06 L219.03,146.16 L220.29,145.22 L221.52,144.26 L222.73,143.25 L223.90,142.20" stroke="#000" stroke-width="0.8"/>
<path d="M147.50,165.90 L148.79,165.10 L150.08,164.30 L151.38,163.50 L152.68,162.70 L153.97,161.90 L155.28,161.11 L156.58,160.31 L157.88,159.52 L159.18,158.72 L160.49,157.93 L161.79,157.13 L163.10,156.34 L164.40,155.54 L165.71,154.74 L167.01,153.94 L168.31,153.14 L169.62,152.34 L170.92,151.54 L172.21,150.73 L173.51,149.92 L174.81,149.11 L176.10,148.30 L177.39,147.48 L178.68,146.66 L179.96,145.84 L181.24,145.01 L182.52,144.18 L183.79,143.35 L185.06,142.51 L186.33,141.66 L187.59,140.81 L188.84,139.96 L190.09,139.10 L191.34,138.24 L192.58,137.37 L193.82,136.49 L195.04,135.61 L196.27,134.72 L197.48,133.83 L198.69,132.93 L199.89,132.02 L201.09,131.10 L202.28,130.18 L203.46,129.25 L204.63,128.31 L205.79,127.36 L206.95,126.41 L208.10,125.45 L209.24,124.47 L210.37,123.49 L211.49,122.50 L212.60,121.50 L213.70,120.49 L214.79,119.48 L215.87,118.45 L216.94,117.41 L218.00,116.36 L219.04,115.30 L220.08,114.22 L221.11,113.14 L222.12,112.05 L223.12,110.94 L224.11,109.82 L225.09,108.69 L226.05,107.55 L227.00,106.40 L227.94,105.23 L228.86,104.05 L229.77,102.86 L230.67,101.65 L231.56,100.43 L232.43,99.20 L233.29,97.96 L234.14,96.71 L234.99,95.46 L235.83,94.19 L236.66,92.92 L237.48,91.65 L238.30,90.37 L239.12,89.08 L239.94,87.80 L240.75,86.51 L241.56,85.22 L242.38,83.93 L243.20,82.65 L244.01,81.36 L244.84,80.08 L245.67,78.81 L246.50,77.54 L247.34,76.27 L248.19,75.02 L249.04,73.77 L249.91,72.53 L250.79,71.30 L251.68,70.08 L252.58,68.87 L253.50,67.68 L254.43,66.50 L255.38,65.33 L256.35,64.18 L257.33,63.05 L258.33,61.93 L259.35,60.84 L260.40,59.76 L261.46,58.71 L262.55,57.67 L263.67,56.66 L264.80,55.67 L265.97,54.71 L267.16,53.77 L268.38,52.86 L269.63,51.97 L270.91,51.12 L272.22,50.29 L273.56,49.50 L274.94,48.73 L276.35,48.00 L277.80,47.30" stroke="#9c7a2c" stroke-width="1.1" stroke-dasharray="6.7 3.4"/>
<path d="M68.60,253.80 L70.05,253.76 L71.51,253.73 L72.97,253.70 L74.44,253.68 L75.91,253.65 L77.39,253.63 L78.87,253.62 L80.35,253.60 L81.84,253.59 L83.33,253.58 L84.83,253.57 L86.33,253.56 L87.83,253.55 L89.33,253.54 L90.84,253.53 L92.35,253.53 L93.87,253.52 L95.38,253.51 L96.90,253.50 L98.42,253.49 L99.95,253.48 L101.47,253.46 L103.00,253.45 L104.52,253.43 L106.05,253.41 L107.58,253.38 L109.12,253.35 L110.65,253.32 L112.18,253.29 L113.71,253.25 L115.25,253.21 L116.78,253.16 L118.32,253.11 L119.85,253.05 L121.39,252.98 L122.92,252.91 L124.45,252.84 L125.99,252.76 L127.52,252.67 L129.05,252.57 L130.58,252.47 L132.10,252.36 L133.63,252.24 L135.16,252.12 L136.68,251.98 L138.20,251.84 L139.72,251.69 L141.23,251.52 L142.75,251.35 L144.26,251.17 L145.77,250.98 L147.27,250.78 L148.78,250.57 L150.28,250.35 L151.77,250.11 L153.26,249.87 L154.75,249.61 L156.24,249.34 L157.72,249.06 L159.19,248.77 L160.66,248.46 L162.13,248.14 L163.59,247.80 L165.05,247.46 L166.50,247.09 L167.95,246.72 L169.39,246.33 L170.83,245.92 L172.26,245.50 L173.68,245.06 L175.10,244.61 L176.52,244.14 L177.92,243.66 L179.32,243.16 L180.72,242.64 L182.10,242.10 L183.48,241.55 L184.85,240.98 L186.22,240.39 L187.58,239.78 L188.93,239.15 L190.27,238.51 L191.60,237.85 L192.93,237.16 L194.25,236.46 L195.56,235.73 L196.86,234.99 L198.15,234.23 L199.43,233.44 L200.70,232.64 L201.97,231.81 L203.22,230.97 L204.46,230.10 L205.69,229.22 L206.90,228.32 L208.11,227.40 L209.30,226.46 L210.47,225.50 L211.64,224.53 L212.78,223.54 L213.92,222.52 L215.03,221.50 L216.14,220.45 L217.22,219.39 L218.29,218.31 L219.34,217.21 L220.37,216.10 L221.38,214.97 L222.38,213.82 L223.35,212.66 L224.31,211.49 L225.24,210.29 L226.16,209.09 L227.05,207.86 L227.92,206.63 L228.77,205.37 L229.59,204.11 L230.40,202.83 L231.18,201.54 L231.95,200.23 L232.70,198.92 L233.44,197.60 L234.16,196.27 L234.87,194.93 L235.57,193.59 L236.26,192.24 L236.95,190.89 L237.63,189.53 L238.30,188.17 L238.98,186.82 L239.65,185.46 L240.33,184.11 L241.01,182.76 L241.69,181.41 L242.38,180.06 L243.08,178.73 L243.79,177.40 L244.51,176.07 L245.24,174.76 L245.98,173.46 L246.75,172.17 L247.52,170.89 L248.32,169.62 L249.14,168.37 L249.98,167.13 L250.84,165.91 L251.72,164.70 L252.62,163.51 L253.54,162.32 L254.47,161.15 L255.41,159.98 L256.37,158.83 L257.34,157.68 L258.32,156.54 L259.31,155.41 L260.31,154.28 L261.31,153.15 L262.32,152.03 L263.33,150.91 L264.35,149.79 L265.37,148.68 L266.39,147.56 L267.40,146.44 L268.42,145.32 L269.43,144.20 L270.43,143.07 L271.43,141.94 L272.43,140.80 L273.41,139.66 L274.39,138.50 L275.35,137.34 L276.30,136.17 L277.24,135.00 L278.16,133.81 L279.07,132.61 L279.97,131.40 L280.86,130.18 L281.73,128.95 L282.60,127.72 L283.46,126.48 L284.31,125.24 L285.16,123.99 L286.01,122.74 L286.85,121.49 L287.68,120.23 L288.52,118.97 L289.36,117.71 L290.19,116.45 L291.03,115.20 L291.87,113.94 L292.72,112.68 L293.57,111.43 L294.43,110.19 L295.29,108.94 L296.17,107.71 L297.05,106.47 L297.94,105.25 L298.85,104.03 L299.77,102.83 L300.70,101.63 L301.65,100.44 L302.61,99.26 L303.59,98.09 L304.59,96.94 L305.61,95.80 L306.65,94.67 L307.71,93.56 L308.80,92.46 L309.91,91.38 L311.04,90.32 L312.20,89.28 L313.38,88.27 L314.57,87.31 L315.79,86.41 L317.01,85.59 L318.25,84.87 L319.49,84.26 L320.73,83.77 L321.97,83.41 L323.20,83.21 L324.42,83.18 L325.64,83.33 L326.83,83.66 L327.99,84.16 L329.10,84.81 L330.15,85.62 L331.12,86.55 L332.02,87.61 L332.84,88.78 L333.58,90.05 L334.25,91.42 L334.86,92.87 L335.41,94.39 L335.89,95.97 L336.33,97.61 L336.71,99.29 L337.05,101.00 L337.34,102.73 L337.60,104.48 L337.82,106.24 L338.01,107.99 L338.17,109.72 L338.31,111.43 L338.43,113.10 L338.54,114.72 L338.64,116.29 L338.72,117.80 L338.81,119.23 L338.90,120.57 L338.99,121.82 L339.09,122.97 L339.20,124.00" stroke="#9c7a2c" stroke-width="1.3" stroke-dasharray="6.7 3.4"/>
<path d="M339.60,124.00 L339.63,122.44 L339.67,120.88 L339.73,119.33 L339.81,117.78 L339.90,116.23 L340.01,114.69 L340.13,113.15 L340.26,111.61 L340.41,110.08 L340.58,108.55 L340.75,107.03 L340.95,105.51 L341.15,103.99 L341.37,102.48 L341.60,100.97 L341.84,99.46 L342.10,97.95 L342.36,96.45 L342.64,94.95 L342.93,93.46 L343.23,91.97 L343.55,90.48 L343.87,88.99 L344.21,87.51 L344.55,86.02 L344.90,84.54 L345.27,83.07 L345.64,81.59 L346.03,80.12 L346.42,78.65 L346.82,77.18 L347.23,75.72 L347.65,74.26 L348.07,72.80 L348.51,71.34 L348.95,69.88 L349.40,68.42 L349.85,66.97 L350.32,65.52 L350.78,64.07 L351.26,62.62 L351.74,61.17 L352.23,59.73 L352.72,58.29 L353.22,56.84 L353.72,55.40 L354.23,53.96 L354.74,52.52 L355.26,51.09 L355.78,49.65 L356.31,48.21 L356.83,46.78 L357.37,45.35 L357.90,43.91 L358.44,42.48 L358.98,41.05 L359.52,39.62 L360.06,38.19 L360.61,36.76 L361.16,35.33 L361.71,33.90 L362.26,32.47 L362.81,31.04 L363.36,29.61 L363.91,28.19 L364.46,26.76 L365.02,25.33 L365.57,23.90 L366.12,22.47 L366.67,21.04 L367.22,19.62 L367.76,18.19 L368.31,16.76 L368.85,15.33 L369.39,13.90 L369.93,12.46 L370.47,11.03 L371.00,9.60" stroke="#9c7a2c" stroke-width="1.3" stroke-dasharray="6.7 3.4"/>
<path d="M285.80,9.60 L285.21,10.98 L284.63,12.37 L284.04,13.75 L283.45,15.13 L282.86,16.52 L282.27,17.90 L281.68,19.28 L281.09,20.67 L280.50,22.05 L279.90,23.43 L279.31,24.81 L278.72,26.19 L278.12,27.57 L277.53,28.95 L276.93,30.33 L276.33,31.71 L275.73,33.09 L275.13,34.47 L274.53,35.84 L273.93,37.22 L273.33,38.60 L272.72,39.97 L272.12,41.35 L271.51,42.73 L270.90,44.10 L270.29,45.47 L269.69,46.85 L269.07,48.22 L268.46,49.59 L267.85,50.97 L267.23,52.34 L266.62,53.71 L266.00,55.08 L265.38,56.45 L264.76,57.82 L264.13,59.19 L263.51,60.55 L262.88,61.92 L262.26,63.29 L261.63,64.65 L261.00,66.02 L260.37,67.38 L259.73,68.75 L259.10,70.11 L258.46,71.47 L257.82,72.83 L257.18,74.19 L256.54,75.55 L255.89,76.91 L255.25,78.27 L254.60,79.63 L253.95,80.98 L253.29,82.34 L252.64,83.69 L251.98,85.05 L251.32,86.40 L250.66,87.75 L250.00,89.10 L249.34,90.45 L248.67,91.80 L248.00,93.15 L247.33,94.50 L246.65,95.84 L245.98,97.19 L245.30,98.53 L244.62,99.88 L243.93,101.22 L243.25,102.56 L242.56,103.90 L241.87,105.24 L241.18,106.58 L240.48,107.92 L239.78,109.25 L239.08,110.59 L238.38,111.92 L237.67,113.25 L236.96,114.59 L236.25,115.92 L235.53,117.25 L234.82,118.57 L234.10,119.90 L233.37,121.23 L232.65,122.55 L231.92,123.88 L231.19,125.20 L230.45,126.52 L229.72,127.84 L228.98,129.16 L228.23,130.47 L227.49,131.79 L226.74,133.10 L225.98,134.42 L225.23,135.73 L224.47,137.04 L223.71,138.35 L222.94,139.66 L222.17,140.96 L221.40,142.27 L220.62,143.57 L219.84,144.87 L219.06,146.17 L218.28,147.47 L217.49,148.76 L216.69,150.05 L215.90,151.35 L215.10,152.63 L214.29,153.92 L213.48,155.20 L212.67,156.48 L211.86,157.76 L211.04,159.04 L210.21,160.31 L209.39,161.58 L208.55,162.85 L207.72,164.11 L206.88,165.37 L206.04,166.63 L205.19,167.88 L204.34,169.14 L203.48,170.38 L202.62,171.63 L201.76,172.87 L200.89,174.11 L200.01,175.34 L199.14,176.57 L198.25,177.80 L197.37,179.02 L196.47,180.24 L195.58,181.45 L194.68,182.66 L193.77,183.87 L192.86,185.07 L191.95,186.27 L191.03,187.46 L190.10,188.65 L189.17,189.83 L188.24,191.01 L187.30,192.18 L186.36,193.35 L185.41,194.52 L184.45,195.68 L183.49,196.83 L182.53,197.98 L181.56,199.12 L180.58,200.26 L179.60,201.40 L178.62,202.52 L177.63,203.65 L176.63,204.76 L175.63,205.87 L174.62,206.98 L173.61,208.08 L172.59,209.17 L171.56,210.26 L170.53,211.34 L169.50,212.41 L168.46,213.48 L167.41,214.55 L166.36,215.60 L165.30,216.65 L164.23,217.69 L163.16,218.73 L162.09,219.76 L161.00,220.78 L159.91,221.80 L158.82,222.81 L157.72,223.81 L156.61,224.81 L155.50,225.79 L154.38,226.78 L153.25,227.75 L152.12,228.71 L150.98,229.67 L149.84,230.62 L148.68,231.57 L147.53,232.50 L146.36,233.43 L145.19,234.35 L144.01,235.26 L142.83,236.17 L141.64,237.06 L140.44,237.95 L139.24,238.83 L138.02,239.70 L136.81,240.57 L135.58,241.42 L134.35,242.27 L133.12,243.11 L131.87,243.94 L130.62,244.76 L129.37,245.57 L128.10,246.38 L126.84,247.17 L125.56,247.96 L124.28,248.74 L123.00,249.51 L121.70,250.27 L120.41,251.03 L119.10,251.77 L117.79,252.51 L116.48,253.24 L115.15,253.95 L113.83,254.66 L112.49,255.36 L111.15,256.06 L109.81,256.74 L108.46,257.41 L107.11,258.08 L105.74,258.73 L104.38,259.38 L103.01,260.02 L101.63,260.65 L100.25,261.27 L98.86,261.88 L97.47,262.48 L96.07,263.07 L94.67,263.65 L93.26,264.22 L91.85,264.79 L90.43,265.34 L89.01,265.89 L87.58,266.42 L86.15,266.95 L84.71,267.46 L83.27,267.97 L81.82,268.47 L80.37,268.95 L78.91,269.43 L77.45,269.90 L75.99,270.36 L74.52,270.81 L73.05,271.24 L71.57,271.67 L70.09,272.09 L68.60,272.50" stroke="#9c7a2c" stroke-width="1.1" stroke-dasharray="6.7 3.4"/>
<path d="M339.4,122 L339.4,149" stroke="#9c7a2c" stroke-width="1.3"/>
<path d="M68.60,179.60 L389.50,179.60 L392.50,177.80 L398.00,172.00 L404.00,165.00 L405.60,163.00" stroke="#ff1010" stroke-width="1.3" stroke-dasharray="2.1 2.1"/>
<path d="M81.50,300.00 L82.71,299.10 L83.92,298.19 L85.12,297.29 L86.32,296.38 L87.53,295.47 L88.73,294.56 L89.93,293.64 L91.12,292.72 L92.32,291.80 L93.51,290.88 L94.70,289.96 L95.89,289.03 L97.08,288.10 L98.27,287.17 L99.45,286.24 L100.63,285.30 L101.81,284.36 L102.99,283.42 L104.17,282.48 L105.35,281.54 L106.52,280.59 L107.69,279.64 L108.86,278.69 L110.03,277.74 L111.20,276.78 L112.36,275.82 L113.53,274.86 L114.69,273.90 L115.85,272.94 L117.00,271.97 L118.16,271.00 L119.31,270.03 L120.47,269.06 L121.62,268.08 L122.77,267.11 L123.91,266.13 L125.06,265.15 L126.20,264.16 L127.34,263.18 L128.48,262.19 L129.62,261.20 L130.76,260.21 L131.89,259.21 L133.02,258.21 L134.15,257.22 L135.28,256.22 L136.41,255.21 L137.53,254.21 L138.65,253.20 L139.77,252.19 L140.89,251.18 L142.01,250.17 L143.13,249.15 L144.24,248.13 L145.35,247.11 L146.46,246.09 L147.57,245.07 L148.67,244.04 L149.78,243.02 L150.88,241.99 L151.98,240.95 L153.08,239.92 L154.18,238.88 L155.27,237.85 L156.36,236.81 L157.45,235.76 L158.54,234.72 L159.63,233.67 L160.71,232.63 L161.80,231.58 L162.88,230.52 L163.96,229.47 L165.03,228.41 L166.11,227.36 L167.18,226.30 L168.25,225.23 L169.32,224.17 L170.39,223.10 L171.45,222.04 L172.52,220.97 L173.58,219.89 L174.64,218.82 L175.69,217.74 L176.75,216.67 L177.80,215.59 L178.85,214.50 L179.90,213.42 L180.95,212.34 L182.00,211.25 L183.04,210.16 L184.08,209.07 L185.12,207.97 L186.16,206.88 L187.19,205.78 L188.23,204.68 L189.26,203.58 L190.29,202.48 L191.31,201.38 L192.34,200.27 L193.36,199.16 L194.38,198.05 L195.40,196.94 L196.42,195.82 L197.44,194.71 L198.45,193.59 L199.46,192.47 L200.47,191.35 L201.47,190.23 L202.48,189.10 L203.48,187.97 L204.48,186.85 L205.48,185.71 L206.48,184.58 L207.47,183.45 L208.46,182.31 L209.45,181.17 L210.44,180.03 L211.43,178.89 L212.41,177.75 L213.39,176.60 L214.37,175.46 L215.35,174.31 L216.33,173.16 L217.30,172.01 L218.27,170.85 L219.24,169.70 L220.21,168.54 L221.17,167.38 L222.14,166.22 L223.10,165.06 L224.05,163.89 L225.01,162.73 L225.97,161.56 L226.92,160.39 L227.87,159.22 L228.81,158.04 L229.76,156.87 L230.70,155.69 L231.65,154.51 L232.58,153.33 L233.52,152.15 L234.46,150.97 L235.39,149.78 L236.32,148.60 L237.25,147.41 L238.17,146.22 L239.10,145.02 L240.02,143.83 L240.94,142.64 L241.86,141.44 L242.77,140.24 L243.68,139.04 L244.59,137.84 L245.50,136.63 L246.41,135.43 L247.31,134.22 L248.21,133.01 L249.11,131.80 L250.01,130.59 L250.91,129.38 L251.80,128.16 L252.69,126.95 L253.58,125.73 L254.46,124.51 L255.35,123.29 L256.23,122.06 L257.11,120.84 L257.99,119.61 L258.86,118.39 L259.73,117.16 L260.60,115.93 L261.47,114.69 L262.34,113.46 L263.20,112.22 L264.06,110.99 L264.92,109.75 L265.78,108.51 L266.63,107.26 L267.48,106.02 L268.33,104.78 L269.18,103.53 L270.03,102.28 L270.87,101.03 L271.71,99.78 L272.55,98.53 L273.38,97.27 L274.22,96.02 L275.05,94.76 L275.88,93.50 L276.71,92.24 L277.53,90.98 L278.35,89.72 L279.17,88.45 L279.99,87.19 L280.80,85.92 L281.62,84.65 L282.43,83.38 L283.23,82.11 L284.04,80.83 L284.84,79.56 L285.64,78.28 L286.44,77.01 L287.24,75.73 L288.03,74.45 L288.82,73.16 L289.61,71.88 L290.40,70.60 L291.18,69.31 L291.96,68.02 L292.74,66.73 L293.52,65.44 L294.30,64.15 L295.07,62.86 L295.84,61.56 L296.60,60.26 L297.37,58.97 L298.13,57.67 L298.89,56.37 L299.65,55.07 L300.40,53.76 L301.16,52.46 L301.91,51.15 L302.66,49.85 L303.40,48.54 L304.14,47.23 L304.88,45.92 L305.62,44.60 L306.36,43.29 L307.09,41.97 L307.82,40.66 L308.55,39.34 L309.28,38.02 L310.00,36.70" stroke="#ff1010" stroke-width="1.3" stroke-dasharray="2.1 2.1"/>
<path d="M220.30,300.00 L221.27,298.83 L222.23,297.66 L223.20,296.48 L224.16,295.31 L225.11,294.13 L226.07,292.95 L227.02,291.76 L227.97,290.58 L228.91,289.39 L229.86,288.20 L230.80,287.01 L231.74,285.82 L232.67,284.62 L233.60,283.43 L234.53,282.23 L235.46,281.03 L236.38,279.82 L237.30,278.62 L238.21,277.41 L239.13,276.20 L240.04,274.99 L240.95,273.78 L241.85,272.56 L242.75,271.35 L243.65,270.13 L244.55,268.91 L245.44,267.68 L246.33,266.46 L247.22,265.23 L248.10,264.00 L248.98,262.77 L249.86,261.54 L250.73,260.30 L251.60,259.06 L252.47,257.83 L253.34,256.58 L254.20,255.34 L255.06,254.10 L255.91,252.85 L256.76,251.60 L257.61,250.35 L258.46,249.10 L259.30,247.84 L260.14,246.59 L260.98,245.33 L261.81,244.07 L262.64,242.80 L263.47,241.54 L264.29,240.27 L265.11,239.00 L265.93,237.73 L266.74,236.46 L267.55,235.19 L268.36,233.91 L269.16,232.63 L269.96,231.35 L270.76,230.07 L271.55,228.79 L272.34,227.50 L273.13,226.21 L273.91,224.92 L274.69,223.63 L275.47,222.34 L276.24,221.04 L277.01,219.74 L277.78,218.44 L278.54,217.14 L279.30,215.84 L280.05,214.53 L280.81,213.23 L281.56,211.92 L282.30,210.61 L283.04,209.29 L283.78,207.98 L284.52,206.66 L285.25,205.34 L285.97,204.02 L286.70,202.70 L287.42,201.37 L288.14,200.05 L288.85,198.72 L289.56,197.39 L290.27,196.06 L290.97,194.72 L291.67,193.39 L292.36,192.05 L293.05,190.71 L293.74,189.37 L294.43,188.03 L295.11,186.68 L295.78,185.34 L296.46,183.99 L297.13,182.64 L297.79,181.28 L298.45,179.93 L299.11,178.57 L299.77,177.21 L300.42,175.85 L301.06,174.49 L301.71,173.13 L302.35,171.76 L302.98,170.40 L303.62,169.03 L304.25,167.66 L304.87,166.28 L305.49,164.91 L306.11,163.53 L306.72,162.16 L307.34,160.78 L307.94,159.40 L308.55,158.01 L309.15,156.63 L309.74,155.24 L310.34,153.86 L310.92,152.47 L311.51,151.08 L312.09,149.68 L312.67,148.29 L313.25,146.90 L313.82,145.50 L314.39,144.10 L314.95,142.70 L315.51,141.30 L316.07,139.90 L316.62,138.49 L317.17,137.09 L317.72,135.68 L318.26,134.27 L318.81,132.86 L319.34,131.45 L319.88,130.04 L320.41,128.62 L320.93,127.21 L321.46,125.79 L321.98,124.37 L322.49,122.95 L323.01,121.53 L323.51,120.11 L324.02,118.68 L324.52,117.26 L325.02,115.83 L325.52,114.40 L326.01,112.98 L326.50,111.55 L326.99,110.12 L327.47,108.68 L327.95,107.25 L328.43,105.81 L328.90,104.38 L329.37,102.94 L329.84,101.50 L330.30,100.06 L330.76,98.62 L331.22,97.18 L331.67,95.74 L332.13,94.30 L332.57,92.85 L333.02,91.41 L333.46,89.96 L333.90,88.51 L334.33,87.07 L334.77,85.62 L335.19,84.17 L335.62,82.72 L336.04,81.26 L336.46,79.81 L336.88,78.36 L337.29,76.90 L337.70,75.45 L338.11,73.99 L338.52,72.53 L338.92,71.08 L339.32,69.62 L339.71,68.16 L340.11,66.70 L340.50,65.24 L340.88,63.77 L341.27,62.31 L341.65,60.85 L342.03,59.39 L342.40,57.92 L342.77,56.46 L343.14,54.99 L343.51,53.53 L343.87,52.06 L344.24,50.59 L344.59,49.12 L344.95,47.66 L345.30,46.19 L345.65,44.72 L346.00,43.25 L346.34,41.78 L346.68,40.31 L347.02,38.84 L347.36,37.36 L347.69,35.89 L348.02,34.42 L348.35,32.95 L348.68,31.47 L349.00,30.00" stroke="#ff1010" stroke-width="1.3" stroke-dasharray="2.1 2.1"/>
<path d="M361.50,10.50 L362.27,11.93 L362.98,13.36 L363.64,14.80 L364.24,16.23 L364.80,17.67 L365.32,19.12 L365.80,20.56 L366.25,22.02 L366.67,23.48 L367.07,24.95 L367.45,26.42 L367.82,27.91 L368.18,29.41 L368.54,30.91 L368.90,32.43 L369.27,33.97 L369.65,35.52 L370.04,37.08 L370.46,38.66 L370.91,40.25 L371.38,41.87 L371.89,43.49 L372.46,45.07 L373.09,46.57 L373.80,47.94 L374.60,49.13 L375.50,50.09 L376.53,50.78 L377.68,51.17 L378.94,51.28 L380.30,51.14 L381.72,50.81 L383.19,50.30 L384.70,49.67 L386.22,48.93 L387.72,48.14 L389.20,47.33 L390.66,46.50 L392.08,45.67 L393.49,44.86 L394.87,44.06 L396.23,43.28 L397.59,42.54 L398.93,41.82 L400.26,41.10 L401.59,40.37 L402.92,39.63 L404.26,38.84 L405.60,38.00" stroke="#2a9a2a" stroke-width="1.3" stroke-dasharray="7 2.5 1.5 2.5"/>
<path d="M78.00,300.00 L79.12,298.99 L80.23,297.97 L81.34,296.96 L82.45,295.94 L83.56,294.92 L84.66,293.89 L85.77,292.87 L86.87,291.84 L87.97,290.81 L89.07,289.78 L90.16,288.75 L91.26,287.71 L92.35,286.68 L93.44,285.64 L94.53,284.60 L95.62,283.56 L96.70,282.51 L97.78,281.47 L98.87,280.42 L99.95,279.37 L101.02,278.32 L102.10,277.27 L103.17,276.21 L104.25,275.16 L105.32,274.10 L106.39,273.04 L107.46,271.98 L108.52,270.92 L109.59,269.85 L110.65,268.79 L111.71,267.72 L112.77,266.65 L113.83,265.58 L114.89,264.51 L115.95,263.44 L117.00,262.36 L118.05,261.29 L119.11,260.21 L120.16,259.13 L121.21,258.05 L122.25,256.97 L123.30,255.89 L124.35,254.81 L125.39,253.72 L126.43,252.64 L127.47,251.55 L128.51,250.46 L129.55,249.37 L130.59,248.28 L131.63,247.19 L132.66,246.10 L133.70,245.01 L134.73,243.91 L135.76,242.82 L136.80,241.72 L137.83,240.62 L138.86,239.52 L139.88,238.42 L140.91,237.32 L141.94,236.22 L142.96,235.12 L143.99,234.02 L145.01,232.91 L146.03,231.81 L147.06,230.70 L148.08,229.60 L149.10,228.49 L150.12,227.38 L151.13,226.28 L152.15,225.17 L153.17,224.06 L154.19,222.95 L155.20,221.84 L156.22,220.72 L157.23,219.61 L158.24,218.50 L159.26,217.39 L160.27,216.27 L161.28,215.16 L162.29,214.04 L163.30,212.93 L164.31,211.81 L165.32,210.70 L166.33,209.58 L167.34,208.47 L168.35,207.35 L169.36,206.23 L170.36,205.11 L171.37,204.00 L172.38,202.88 L173.38,201.76 L174.39,200.64 L175.40,199.52 L176.40,198.41 L177.41,197.29 L178.41,196.17 L179.42,195.05 L180.42,193.93 L181.42,192.81 L182.43,191.69 L183.43,190.57 L184.44,189.45 L185.44,188.33 L186.44,187.21 L187.45,186.09 L188.45,184.97 L189.45,183.86 L190.46,182.74 L191.46,181.62 L192.46,180.50 L193.46,179.38 L194.47,178.26 L195.47,177.15 L196.47,176.03 L197.48,174.91 L198.48,173.79 L199.48,172.67 L200.49,171.56 L201.49,170.44 L202.50,169.32 L203.50,168.21 L204.50,167.09 L205.51,165.97 L206.51,164.86 L207.51,163.74 L208.52,162.62 L209.52,161.50 L210.53,160.39 L211.53,159.27 L212.54,158.15 L213.54,157.04 L214.55,155.92 L215.55,154.80 L216.55,153.69 L217.56,152.57 L218.56,151.45 L219.57,150.33 L220.58,149.22 L221.58,148.10 L222.59,146.98 L223.59,145.86 L224.60,144.74 L225.60,143.62 L226.61,142.50 L227.62,141.39 L228.62,140.27 L229.63,139.15 L230.63,138.03 L231.64,136.91 L232.65,135.78 L233.66,134.66 L234.66,133.54 L235.67,132.42 L236.68,131.30 L237.69,130.18 L238.69,129.05 L239.70,127.93 L240.71,126.81 L241.72,125.68 L242.73,124.56 L243.73,123.43 L244.74,122.31 L245.75,121.18 L246.76,120.06 L247.77,118.93 L248.78,117.80 L249.79,116.67 L250.80,115.55 L251.81,114.42 L252.82,113.29 L253.83,112.16 L254.84,111.03 L255.85,109.89 L256.87,108.76 L257.88,107.63 L258.89,106.50 L259.90,105.37 L260.92,104.24 L261.94,103.11 L262.96,101.99 L263.98,100.87 L265.01,99.75 L266.04,98.65 L267.08,97.54 L268.12,96.45 L269.16,95.36 L270.22,94.28 L271.28,93.21 L272.34,92.16 L273.42,91.11 L274.50,90.07 L275.59,89.05 L276.69,88.04 L277.80,87.04 L278.91,86.06 L280.04,85.10 L281.18,84.15 L282.33,83.22 L283.50,82.30 L284.67,81.41 L285.86,80.53 L287.06,79.68 L288.27,78.84 L289.50,78.03 L290.74,77.24 L292.00,76.47 L293.27,75.72 L294.55,74.98 L295.84,74.25 L297.13,73.52 L298.42,72.79 L299.72,72.06 L301.01,71.32 L302.30,70.57 L303.59,69.80 L304.86,69.01 L306.13,68.20 L307.39,67.35 L308.62,66.47 L309.85,65.55 L311.05,64.59 L312.24,63.59 L313.41,62.57 L314.58,61.52 L315.74,60.46 L316.89,59.41 L318.05,58.35 L319.21,57.32 L320.39,56.31 L321.57,55.33 L322.77,54.39 L323.99,53.50 L325.23,52.67 L326.50,51.90 L327.80,51.22 L329.13,50.61 L330.50,50.10 L331.91,49.69 L333.34,49.37 L334.80,49.14 L336.28,48.99 L337.77,48.93 L339.27,48.95 L340.76,49.04 L342.24,49.21 L343.71,49.44 L345.16,49.74 L346.58,50.10 L347.97,50.52 L349.32,51.00 L350.61,51.47 L351.85,51.84 L353.02,52.02 L354.10,51.91 L355.10,51.54 L356.00,50.89 L356.79,50.00 L357.50,48.88 L358.13,47.59 L358.70,46.14 L359.23,44.58 L359.72,42.94 L360.20,41.25 L360.67,39.55 L361.16,37.87 L361.67,36.24 L362.21,34.68 L362.79,33.20 L363.39,31.77 L364.03,30.41 L364.69,29.09 L365.39,27.82 L366.10,26.58 L366.84,25.37 L367.61,24.19 L368.39,23.03 L369.20,21.88 L370.02,20.73 L370.86,19.58 L371.71,18.43 L372.58,17.26 L373.46,16.07 L374.35,14.85 L375.25,13.61 L376.16,12.32 L377.08,10.98 L378.00,9.60" stroke="#000" stroke-width="2.2"/>
</g>
<path d="M282.5,213.6 H312.5" stroke="#0000ff" stroke-width="1.9" stroke-dasharray="3.6 4.4" fill="none"/>
<path d="M283,260 H316.4" stroke="#0000ff" stroke-width="3" fill="none"/>
<rect x="68.50" y="9.50" width="337.40" height="290.80" fill="none" stroke="#000" stroke-width="1.9"/>
<path d="M180.97,300.30 v-3.6 M180.97,9.50 v3.6 M293.43,300.30 v-3.6 M293.43,9.50 v3.6 M68.50,67.66 h3.6 M405.90,67.66 h-3.6 M68.50,125.82 h3.6 M405.90,125.82 h-3.6 M68.50,183.98 h3.6 M405.90,183.98 h-3.6 M68.50,242.14 h3.6 M405.90,242.14 h-3.6" stroke="#000" stroke-width="1" fill="none"/>
<text transform="translate(60.90 16.20) scale(1 1.040)" font-family="Liberation Sans, sans-serif" font-size="15.00" fill="#000" text-anchor="end" >10<tspan dy="-7.8" font-size="11.7">-8</tspan></text>
<text transform="translate(60.90 74.56) scale(1 1.040)" font-family="Liberation Sans, sans-serif" font-size="15.00" fill="#000" text-anchor="end" >10<tspan dy="-7.8" font-size="11.7">-9</tspan></text>
<text transform="translate(60.90 132.72) scale(1 1.040)" font-family="Liberation Sans, sans-serif" font-size="15.00" fill="#000" text-anchor="end" >10<tspan dy="-7.8" font-size="11.7">-10</tspan></text>
<text transform="translate(60.90 190.88) scale(1 1.040)" font-family="Liberation Sans, sans-serif" font-size="15.00" fill="#000" text-anchor="end" >10<tspan dy="-7.8" font-size="11.7">-11</tspan></text>
<text transform="translate(60.90 249.04) scale(1 1.040)" font-family="Liberation Sans, sans-serif" font-size="15.00" fill="#000" text-anchor="end" >10<tspan dy="-7.8" font-size="11.7">-12</tspan></text>
<text transform="translate(60.90 307.20) scale(1 1.040)" font-family="Liberation Sans, sans-serif" font-size="15.00" fill="#000" text-anchor="end" >10<tspan dy="-7.8" font-size="11.7">-13</tspan></text>
<text transform="translate(54.50 318.70) scale(1 1.040)" font-family="Liberation Sans, sans-serif" font-size="15.00" fill="#000" text-anchor="start" >10<tspan dy="-7.8" font-size="11.7">-3</tspan></text>
<text transform="translate(167.30 318.70) scale(1 1.040)" font-family="Liberation Sans, sans-serif" font-size="15.00" fill="#000" text-anchor="start" >10<tspan dy="-7.8" font-size="11.7">-2</tspan></text>
<text transform="translate(279.70 318.70) scale(1 1.040)" font-family="Liberation Sans, sans-serif" font-size="15.00" fill="#000" text-anchor="start" >10<tspan dy="-7.8" font-size="11.7">-1</tspan></text>
<text transform="translate(402.00 318.70) scale(1 1.040)" font-family="Liberation Sans, sans-serif" font-size="15.00" fill="#000" text-anchor="start" >1</text>
<text transform="translate(75.80 26.80) scale(1 1.040)" font-family="Liberation Sans, sans-serif" font-size="14.20" fill="#000" text-anchor="start" >Majorana DM</text>
<text transform="translate(75.80 43.60) scale(1 1.040)" font-family="Liberation Sans, sans-serif" font-size="14.20" fill="#000" text-anchor="start" >&#945;<tspan dy="4.0" font-size="11.3">D</tspan><tspan dy="-4.0" font-size="1">&#8203;</tspan>=0.5</text>
<g transform="translate(0,334.4)" font-family="Liberation Sans, sans-serif" fill="#000">
<text transform="translate(170.70 0.00) scale(1 1.040)" font-size="14.70" xml:space="preserve">m</text>
<text transform="translate(183.20 5.00) scale(1 1.040)" font-size="12.20" xml:space="preserve">&#967;</text>
<text transform="translate(194.20 0.00) scale(1 1.040)" font-size="14.70" xml:space="preserve">(</text>
<text transform="translate(203.20 0.00) scale(1 1.040)" font-size="14.70" xml:space="preserve">=</text>
<text transform="translate(216.30 0.00) scale(1 1.040)" font-size="14.70" xml:space="preserve">m</text>
<text transform="translate(229.60 5.00) scale(1 1.040)" font-size="12.20" xml:space="preserve">A</text>
<text transform="translate(238.20 0.00) scale(1 1.040)" font-size="14.70" xml:space="preserve">/3)</text>
<text transform="translate(263.20 0.00) scale(1 1.040)" font-size="14.70" xml:space="preserve">(GeV)</text>
</g>
<g transform="translate(15.9,220.5) rotate(-90)" font-family="Liberation Sans, sans-serif" fill="#000">
<text transform="translate(0.30 0.00) scale(1 1.040)" font-size="14.70" xml:space="preserve">y = &#949;</text>
<text transform="translate(31.00 -7.50) scale(1 1.040)" font-size="12.20" xml:space="preserve">2</text>
<text transform="translate(41.00 0.00) scale(1 1.040)" font-size="14.70" xml:space="preserve">&#945;</text>
<text transform="translate(50.40 5.00) scale(1 1.040)" font-size="12.20" xml:space="preserve">D</text>
<text transform="translate(62.90 0.00) scale(1 1.040)" font-size="14.70" xml:space="preserve">(m</text>
<text transform="translate(81.30 5.00) scale(1 1.040)" font-size="12.20" xml:space="preserve">&#967;</text>
<text transform="translate(90.00 0.00) scale(1 1.040)" font-size="14.70" xml:space="preserve">/mA)</text>
<text transform="translate(122.60 -7.50) scale(1 1.040)" font-size="12.20" xml:space="preserve">4</text>
</g>
<text transform="translate(324.20 217.00) scale(1 1.040)" font-family="Liberation Sans, sans-serif" font-size="11.40" fill="#000" text-anchor="start" >FLArE-10</text>
<text transform="translate(299.40 234.00) scale(1 1.040)" font-family="Liberation Sans, sans-serif" font-size="14.33" fill="#000" text-anchor="start" >(1m x 1m x 7m)</text>
<text transform="translate(324.20 263.50) scale(1 1.040)" font-family="Liberation Sans, sans-serif" font-size="11.40" fill="#000" text-anchor="start" >FLArE-100</text>
<text transform="translate(268.50 281.70) scale(1 1.040)" font-family="Liberation Sans, sans-serif" font-size="14.27" fill="#000" text-anchor="start" >(1.6m x 1.6m x 30m)</text>
<text transform="translate(73.50 298.00) rotate(-42.00) scale(1 1.040)" font-family="Liberation Sans, sans-serif" font-size="9.90" fill="#000" text-anchor="start" stroke="#000" stroke-width="0.1">relic target</text>
<text transform="translate(104.50 296.80) rotate(-37.50) scale(1 1.040)" font-family="Liberation Sans, sans-serif" font-size="10.00" fill="#ff2020" text-anchor="start" stroke="#ff2020" stroke-width="0.25">NA64</text>
<text transform="translate(119.50 298.00) rotate(-37.50) scale(1 1.040)" font-family="Liberation Sans, sans-serif" font-size="8.50" fill="#ff2020" text-anchor="start" stroke="#ff2020" stroke-width="0.25">(5*10<tspan dy="-3.8" font-size="6.3">12</tspan><tspan dy="3.8" font-size="1">&#8203;</tspan> EOT)</text>
<text transform="translate(138.60 170.20) rotate(-38.50) scale(1 1.040)" font-family="Liberation Sans, sans-serif" font-size="10.00" fill="#9c7a2c" text-anchor="start" stroke="#9c7a2c" stroke-width="0.25">SND@LHC</text>
<text transform="translate(183.20 256.20) rotate(-32.60) scale(1 1.040)" font-family="Liberation Sans, sans-serif" font-size="9.80" fill="#9c7a2c" text-anchor="start" stroke="#9c7a2c" stroke-width="0.25">SHiP (SND)</text>
<text transform="translate(271.00 33.60) rotate(-64.00) scale(1 1.040)" font-family="Liberation Sans, sans-serif" font-size="9.80" fill="#9c7a2c" text-anchor="start" stroke="#9c7a2c" stroke-width="0.25">BDX</text>
<text transform="translate(232.80 279.50) rotate(-51.00) scale(1 1.040)" font-family="Liberation Sans, sans-serif" font-size="9.80" fill="#ff2020" text-anchor="start" stroke="#ff2020" stroke-width="0.25">LDMX</text>
<text transform="translate(313.40 175.20) scale(1 1.040)" font-family="Liberation Sans, sans-serif" font-size="10.00" fill="#ff2020" text-anchor="start" stroke="#ff2020" stroke-width="0.25">Belle-II (50 ab<tspan dy="-4.0" font-size="6.8">-1</tspan><tspan dy="4.0" font-size="1">&#8203;</tspan>)</text>
<text transform="translate(360.40 67.20) rotate(-24.50) scale(1 1.040)" font-family="Liberation Sans, sans-serif" font-size="8.40" fill="#2a9a2a" text-anchor="start" stroke="#2a9a2a" stroke-width="0.25">SuperCDMS</text>
<text transform="translate(370.30 73.20) rotate(-24.50) scale(1 1.040)" font-family="Liberation Sans, sans-serif" font-size="8.40" fill="#2a9a2a" text-anchor="start" stroke="#2a9a2a" stroke-width="0.25">SNOLAB</text>
</svg>
</body></html>
